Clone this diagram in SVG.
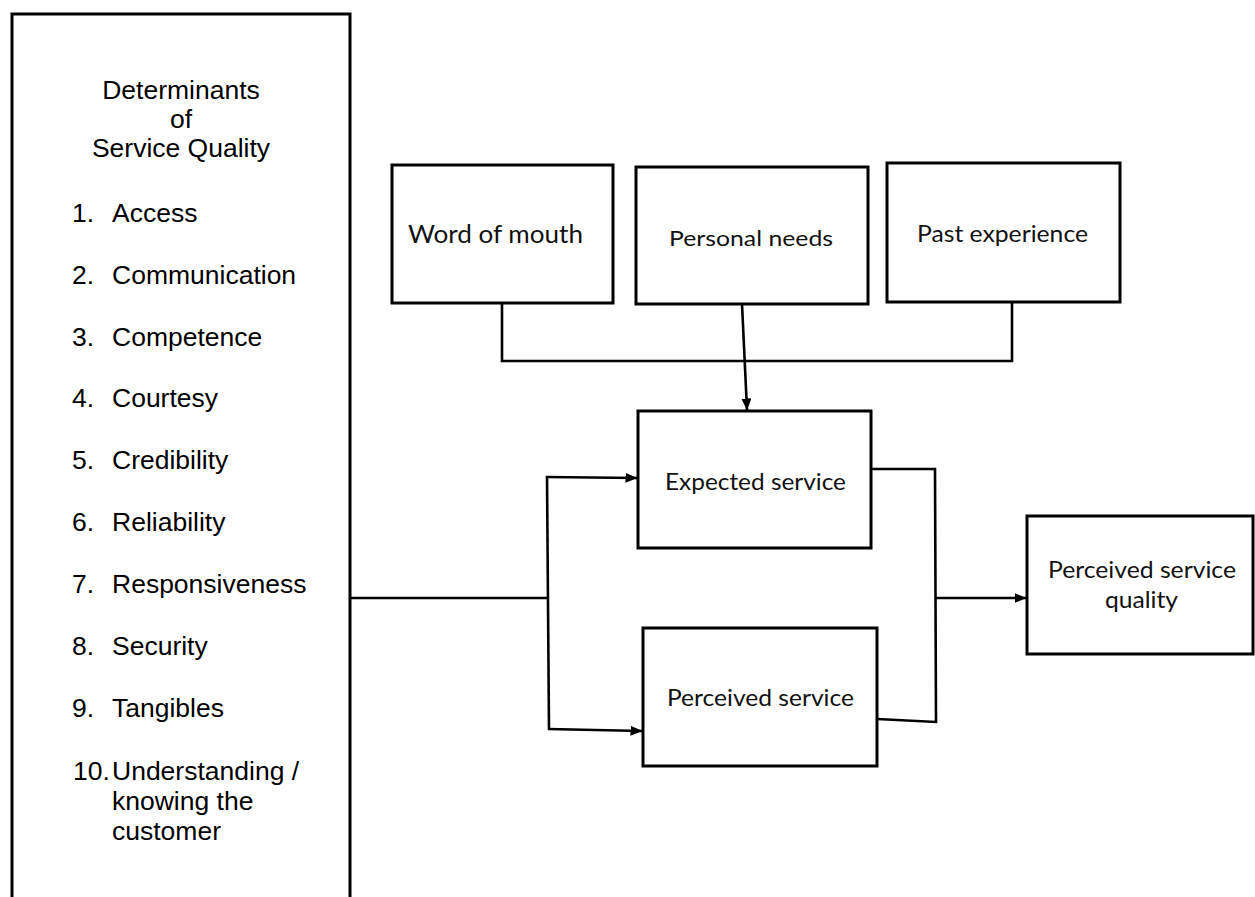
<svg xmlns="http://www.w3.org/2000/svg" width="1255" height="897" viewBox="0 0 1255 897">
  <style>
    .box { fill: #fff; stroke: #000; stroke-width: 3; }
    .wire { fill: none; stroke: #000; stroke-width: 2.6; stroke-linejoin: miter; }
    .sans { font-family: "Liberation Sans", Arial, sans-serif; font-size: 26.5px; fill: #000; }
    .cal { font-family: Lato, "Open Sans", sans-serif; fill: #111; }
  </style>
  <defs>
    <marker id="arrow" viewBox="0 0 12 10" refX="11.5" refY="5" markerWidth="12" markerHeight="10" markerUnits="userSpaceOnUse" orient="auto">
      <path d="M0,0 L12,5 L0,10 Z" fill="#000"/>
    </marker>
  </defs>

  <rect width="1255" height="897" fill="#fff"/>

  <!-- determinants list -->
  <g id="determinants">
    <rect class="box" x="12" y="14" width="338" height="900"/>
    <g class="sans" text-anchor="middle">
      <text x="181" y="99">Determinants</text>
      <text x="181" y="128">of</text>
      <text x="181" y="157">Service Quality</text>
    </g>
    <g class="sans">
      <text x="72" y="222">1.</text><text x="112" y="222">Access</text>
      <text x="72" y="284">2.</text><text x="112" y="284">Communication</text>
      <text x="72" y="346">3.</text><text x="112" y="346">Competence</text>
      <text x="72" y="407">4.</text><text x="112" y="407">Courtesy</text>
      <text x="72" y="469">5.</text><text x="112" y="469">Credibility</text>
      <text x="72" y="531">6.</text><text x="112" y="531">Reliability</text>
      <text x="72" y="593">7.</text><text x="112" y="593">Responsiveness</text>
      <text x="72" y="655">8.</text><text x="112" y="655">Security</text>
      <text x="72" y="717">9.</text><text x="112" y="717">Tangibles</text>
      <text x="73" y="780">10.</text><text x="112" y="780">Understanding /</text>
      <text x="112" y="810">knowing the</text>
      <text x="112" y="840">customer</text>
    </g>
  </g>

  <!-- expectation sources -->
  <g id="word-of-mouth">
    <rect class="box" x="392" y="165" width="221" height="138"/>
    <text class="cal" x="408" y="243" font-size="25" textLength="175" lengthAdjust="spacingAndGlyphs">Word of mouth</text>
  </g>
  <g id="personal-needs">
    <rect class="box" x="636" y="167" width="232" height="137"/>
    <text class="cal" x="669" y="246" font-size="20.5" textLength="164" lengthAdjust="spacingAndGlyphs">Personal needs</text>
  </g>
  <g id="past-experience">
    <rect class="box" x="887" y="163" width="233" height="139"/>
    <text class="cal" x="917" y="242" font-size="23" textLength="171" lengthAdjust="spacingAndGlyphs">Past experience</text>
  </g>

  <!-- service boxes -->
  <g id="expected-service">
    <rect class="box" x="638" y="411" width="233" height="137"/>
    <text class="cal" x="665" y="490" font-size="23.5" textLength="181" lengthAdjust="spacingAndGlyphs">Expected service</text>
  </g>
  <g id="perceived-service">
    <rect class="box" x="643" y="628" width="234" height="138"/>
    <text class="cal" x="667" y="706" font-size="24" textLength="187" lengthAdjust="spacingAndGlyphs">Perceived service</text>
  </g>
  <g id="perceived-service-quality">
    <rect class="box" x="1027" y="516" width="226" height="138"/>
    <text class="cal" x="1048" y="578" font-size="24" textLength="188" lengthAdjust="spacingAndGlyphs">Perceived service</text>
    <text class="cal" x="1105" y="608" font-size="24" textLength="73" lengthAdjust="spacingAndGlyphs">quality</text>
  </g>

  <!-- connectors -->
  <g id="connectors">
    <polyline class="wire" points="502,303 502,361 1012,361 1012,302"/>
    <line class="wire" x1="742" y1="304" x2="747" y2="410" marker-end="url(#arrow)"/>
    <line class="wire" x1="350" y1="598" x2="548" y2="598"/>
    <line class="wire" x1="547" y1="476" x2="549" y2="730"/>
    <line class="wire" x1="546" y1="477" x2="637" y2="478" marker-end="url(#arrow)"/>
    <line class="wire" x1="548" y1="729" x2="642" y2="731" marker-end="url(#arrow)"/>
    <polyline class="wire" points="871,469 935,469 936,722 877,719"/>
    <line class="wire" x1="935" y1="598" x2="1026" y2="598" marker-end="url(#arrow)"/>
  </g>
</svg>
